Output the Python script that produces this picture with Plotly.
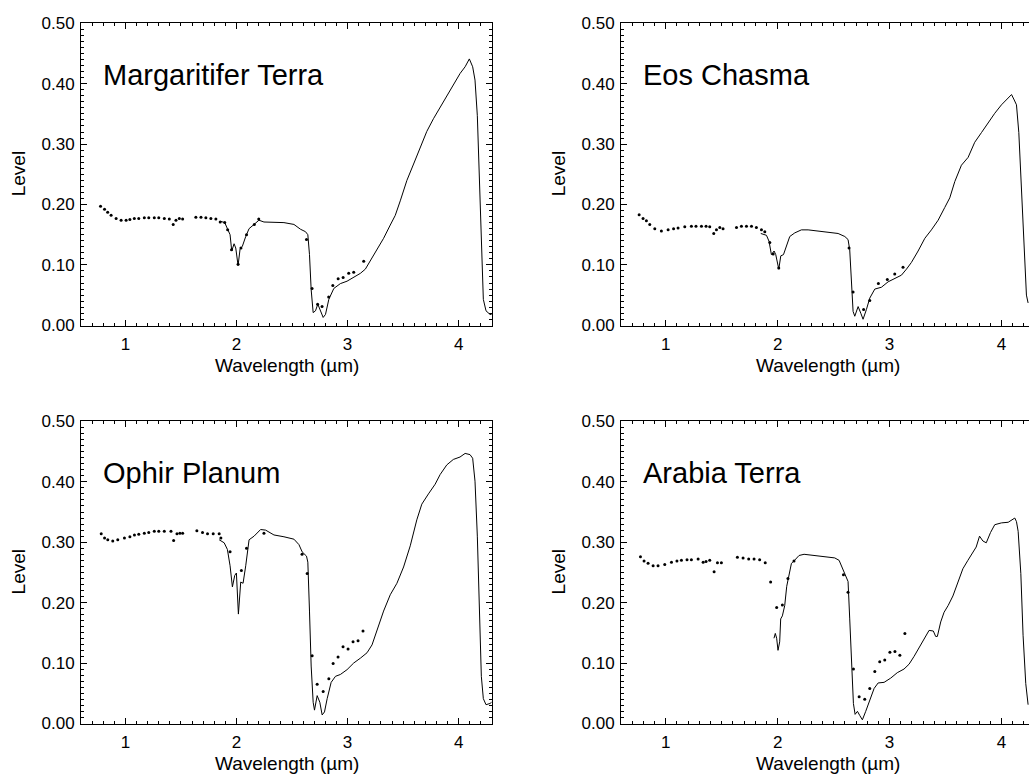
import plotly.graph_objects as go

# ---------------- Data ----------------
# Margaritifer Terra
mt_dot_wl = [0.776, 0.812, 0.84, 0.871, 0.916, 0.961, 1.006, 1.04, 1.08, 1.12, 1.17, 1.21, 1.26, 1.30, 1.35,
             1.395, 1.43, 1.455, 1.485, 1.515, 1.634, 1.68, 1.724, 1.769, 1.814, 1.853, 1.894,
             1.92, 1.955, 2.014, 2.04, 2.09, 2.16, 2.2, 2.63, 2.68, 2.73, 2.77, 2.83, 2.867, 2.915,
             2.96, 3.01, 3.055, 3.145]
mt_dot_lv = [0.197, 0.192, 0.187, 0.182, 0.177, 0.174, 0.174, 0.175, 0.177, 0.177, 0.178, 0.178, 0.178, 0.178, 0.177,
             0.176, 0.167, 0.174, 0.177, 0.176, 0.179, 0.179, 0.178, 0.177, 0.176, 0.171, 0.170,
             0.158, 0.125, 0.101, 0.128, 0.150, 0.167, 0.176, 0.142, 0.061, 0.035, 0.031, 0.047, 0.066, 0.077,
             0.079, 0.086, 0.088, 0.106]
mt_line_wl = [1.859, 1.894, 1.918, 1.942, 1.957, 1.978, 1.993, 2.014, 2.032, 2.053, 2.083, 2.113, 2.158, 2.202,
              2.247, 2.337, 2.427, 2.517, 2.576, 2.621, 2.642, 2.657, 2.672, 2.69, 2.711, 2.732, 2.756, 2.78,
              2.801, 2.831, 2.876, 2.935, 2.995, 3.055, 3.115, 3.16, 3.205, 3.264, 3.324, 3.384, 3.429, 3.474,
              3.534, 3.594, 3.653, 3.713, 3.773, 3.833, 3.893, 3.953, 4.013, 4.058, 4.096, 4.126, 4.147, 4.168,
              4.186, 4.204, 4.222, 4.246, 4.282, 4.296]
mt_line_lv = [0.172, 0.170, 0.160, 0.150, 0.123, 0.135, 0.128, 0.099, 0.126, 0.131, 0.147, 0.160, 0.167, 0.174,
              0.171, 0.171, 0.170, 0.167, 0.159, 0.155, 0.150, 0.117, 0.059, 0.021, 0.024, 0.035, 0.024, 0.013,
              0.018, 0.043, 0.061, 0.069, 0.073, 0.080, 0.086, 0.093, 0.107, 0.125, 0.144, 0.166, 0.182, 0.206,
              0.240, 0.267, 0.294, 0.321, 0.342, 0.361, 0.380, 0.398, 0.417, 0.428, 0.441, 0.428, 0.406, 0.347,
              0.246, 0.117, 0.043, 0.024, 0.018, 0.018]

# Eos Chasma
ec_dot_wl = [0.762, 0.797, 0.827, 0.857, 0.902, 0.961, 1.021, 1.07, 1.11, 1.17, 1.229, 1.27, 1.319, 1.36, 1.393,
             1.429, 1.453, 1.483, 1.512, 1.632, 1.676, 1.721, 1.766, 1.81, 1.855, 1.885,
             1.93, 1.96, 2.01, 2.638, 2.674, 2.768, 2.823, 2.9, 2.98, 3.046, 3.12]
ec_dot_lv = [0.183, 0.177, 0.173, 0.167, 0.160, 0.156, 0.158, 0.160, 0.161, 0.163, 0.164, 0.164, 0.164, 0.164, 0.163,
             0.152, 0.158, 0.162, 0.160, 0.162, 0.164, 0.164, 0.164, 0.162, 0.158, 0.155,
             0.137, 0.118, 0.095, 0.128, 0.055, 0.026, 0.041, 0.069, 0.076, 0.085, 0.096]
ec_line_wl = [1.849, 1.9, 1.923, 1.944, 1.968, 1.983, 2.01, 2.028, 2.052, 2.078, 2.108, 2.153, 2.212, 2.272, 2.361,
              2.451, 2.54, 2.6, 2.629, 2.644, 2.659, 2.674, 2.689, 2.719, 2.743, 2.763, 2.793, 2.823, 2.868, 2.927,
              2.987, 3.046, 3.106, 3.151, 3.195, 3.255, 3.315, 3.374, 3.434, 3.493, 3.538, 3.583, 3.642, 3.702,
              3.761, 3.821, 3.88, 3.94, 4.0, 4.045, 4.09, 4.114, 4.134, 4.155, 4.178, 4.202, 4.223, 4.238]
ec_line_lv = [0.152, 0.149, 0.139, 0.117, 0.123, 0.117, 0.093, 0.115, 0.117, 0.131, 0.147, 0.153, 0.158, 0.158, 0.156,
              0.155, 0.152, 0.147, 0.142, 0.125, 0.066, 0.023, 0.015, 0.031, 0.020, 0.010, 0.026, 0.045, 0.060, 0.063,
              0.072, 0.077, 0.083, 0.093, 0.104, 0.123, 0.144, 0.158, 0.174, 0.195, 0.211, 0.238, 0.265, 0.278,
              0.303, 0.319, 0.335, 0.351, 0.365, 0.373, 0.382, 0.373, 0.365, 0.319, 0.227, 0.120, 0.050, 0.037]

# Ophir Planum
op_dot_wl = [0.782, 0.812, 0.841, 0.886, 0.931, 0.991, 1.04, 1.081, 1.12, 1.17, 1.21, 1.26, 1.30, 1.35, 1.41,
             1.434, 1.464, 1.49, 1.515, 1.643, 1.694, 1.739, 1.79, 1.844, 1.859,
             1.942, 2.044, 2.09, 2.247, 2.59, 2.636, 2.681, 2.726, 2.78, 2.831, 2.87, 2.914, 2.959, 3.004,
             3.049, 3.094, 3.139]
op_dot_lv = [0.314, 0.307, 0.304, 0.302, 0.304, 0.307, 0.309, 0.312, 0.313, 0.315, 0.316, 0.318, 0.318, 0.318, 0.318,
             0.303, 0.314, 0.315, 0.315, 0.319, 0.316, 0.314, 0.314, 0.314, 0.307,
             0.284, 0.253, 0.290, 0.315, 0.280, 0.248, 0.112, 0.065, 0.053, 0.074, 0.099, 0.110, 0.127, 0.123,
             0.135, 0.137, 0.153]
op_line_wl = [1.844, 1.889, 1.918, 1.942, 1.963, 1.984, 1.999, 2.017, 2.038, 2.059, 2.083, 2.113, 2.158, 2.217,
              2.262, 2.337, 2.427, 2.517, 2.562, 2.591, 2.63, 2.642, 2.657, 2.672, 2.69, 2.702, 2.726, 2.75, 2.771,
              2.792, 2.816, 2.852, 2.891, 2.935, 2.995, 3.055, 3.115, 3.175, 3.22, 3.264, 3.324, 3.384, 3.444,
              3.504, 3.564, 3.623, 3.668, 3.728, 3.788, 3.833, 3.893, 3.952, 4.012, 4.058, 4.102, 4.126, 4.147,
              4.168, 4.186, 4.204, 4.222, 4.246, 4.282, 4.296]
op_line_lv = [0.304, 0.299, 0.288, 0.261, 0.226, 0.245, 0.249, 0.181, 0.234, 0.232, 0.261, 0.304, 0.310, 0.321,
              0.320, 0.312, 0.309, 0.305, 0.296, 0.284, 0.277, 0.267, 0.186, 0.095, 0.035, 0.022, 0.046, 0.035, 0.014,
              0.019, 0.041, 0.068, 0.078, 0.081, 0.089, 0.100, 0.108, 0.117, 0.130, 0.154, 0.186, 0.213, 0.232,
              0.259, 0.294, 0.337, 0.363, 0.380, 0.396, 0.412, 0.428, 0.437, 0.441, 0.447, 0.445, 0.439, 0.401,
              0.310, 0.175, 0.078, 0.041, 0.031, 0.033, 0.035]

# Arabia Terra
at_dot_wl = [0.774, 0.806, 0.842, 0.887, 0.931, 0.991, 1.051, 1.10, 1.14, 1.19, 1.229, 1.289, 1.334, 1.36, 1.393,
             1.432, 1.462, 1.497, 1.64, 1.691, 1.741, 1.789, 1.839, 1.889, 1.937, 1.991, 2.042, 2.092, 2.146,
             2.588, 2.629, 2.677, 2.728, 2.778, 2.823, 2.868, 2.912, 2.957, 3.003, 3.048, 3.092, 3.137]
at_dot_lv = [0.276, 0.269, 0.265, 0.261, 0.261, 0.263, 0.267, 0.269, 0.270, 0.271, 0.271, 0.272, 0.267, 0.268, 0.270,
             0.251, 0.266, 0.266, 0.275, 0.274, 0.272, 0.272, 0.271, 0.266, 0.234, 0.192, 0.196, 0.240, 0.269,
             0.246, 0.217, 0.090, 0.044, 0.040, 0.058, 0.086, 0.102, 0.105, 0.118, 0.119, 0.113, 0.149]
at_line_wl = [1.967, 1.979, 1.991, 2.003, 2.018, 2.027, 2.042, 2.063, 2.081, 2.102, 2.123, 2.146, 2.191, 2.236,
              2.325, 2.415, 2.51, 2.549, 2.579, 2.609, 2.629, 2.644, 2.659, 2.677, 2.692, 2.713, 2.734, 2.757,
              2.787, 2.826, 2.862, 2.898, 2.951, 3.01, 3.069, 3.129, 3.174, 3.219, 3.263, 3.308, 3.353, 3.391,
              3.412, 3.427, 3.457, 3.487, 3.523, 3.566, 3.61, 3.655, 3.7, 3.745, 3.774, 3.804, 3.834, 3.864,
              3.902, 3.94, 4.0, 4.06, 4.09, 4.119, 4.134, 4.149, 4.173, 4.193, 4.217, 4.238]
at_line_lv = [0.141, 0.149, 0.141, 0.121, 0.135, 0.173, 0.178, 0.195, 0.227, 0.248, 0.265, 0.269, 0.278, 0.280,
              0.278, 0.275, 0.274, 0.270, 0.256, 0.243, 0.235, 0.173, 0.103, 0.033, 0.015, 0.020, 0.013, 0.006,
              0.020, 0.041, 0.058, 0.067, 0.068, 0.075, 0.084, 0.090, 0.098, 0.111, 0.125, 0.141, 0.154, 0.153,
              0.144, 0.144, 0.168, 0.184, 0.195, 0.211, 0.235, 0.256, 0.270, 0.283, 0.292, 0.310, 0.302, 0.299,
              0.316, 0.329, 0.332, 0.333, 0.337, 0.340, 0.334, 0.318, 0.248, 0.146, 0.066, 0.031]

panel_names = ["Margaritifer Terra", "Eos Chasma", "Ophir Planum", "Arabia Terra"]
x_ticks = [1, 2, 3, 4]
y_ticks = [0.0, 0.1, 0.2, 0.3, 0.4, 0.5]
y_ticktext = ["0.00", "0.10", "0.20", "0.30", "0.40", "0.50"]
x_title = "Wavelength (µm)"
y_title = "Level"

# ---------------- Layout geometry (window pixels) ----------------
W, H = 1029, 779
FONT = "Liberation Sans, Arial, Helvetica, sans-serif"


def px_x(p):
    return p / W


def px_y(p):
    return 1 - p / H


panels = [
    # name, dots, line, x-domain px, y-domain px (top, bottom), x-range, mirror y
    (panel_names[0], mt_dot_wl, mt_dot_lv, mt_line_wl, mt_line_lv, (81, 492), (15, 325), [0.6, 4.3], True),
    (panel_names[1], ec_dot_wl, ec_dot_lv, ec_line_wl, ec_line_lv, (621, 1029), (15, 325), [0.6, 4.246], False),
    (panel_names[2], op_dot_wl, op_dot_lv, op_line_wl, op_line_lv, (81, 492), (422, 732), [0.6, 4.3], True),
    (panel_names[3], at_dot_wl, at_dot_lv, at_line_wl, at_line_lv, (621, 1029), (422, 732), [0.6, 4.246], False),
]

fig = go.Figure()
annotations = []

for i, (name, dwl, dlv, lwl, llv, xd, yd, xr, ymirror) in enumerate(panels):
    n = "" if i == 0 else str(i + 1)
    xa, ya = "x" + n, "y" + n
    fig.add_trace(go.Scatter(x=lwl, y=llv, mode="lines", xaxis=xa, yaxis=ya,
                             line=dict(color="black", width=1), showlegend=False, hoverinfo="skip"))
    fig.add_trace(go.Scatter(x=dwl, y=dlv, mode="markers", xaxis=xa, yaxis=ya,
                             marker=dict(color="black", size=3), showlegend=False))

    tickfont = dict(family=FONT, size=17, color="black")
    fig.layout["xaxis" + n] = dict(
        domain=[px_x(xd[0]), px_x(xd[1])], range=xr, anchor=ya,
        tickvals=x_ticks, ticks="inside", ticklen=6, tickwidth=1, tickcolor="black",
        showline=True, linecolor="black", linewidth=1, mirror="ticks",
        showgrid=False, zeroline=False, tickfont=tickfont, ticklabelstandoff=3,
        minor=dict(ticks="inside", dtick=0.1, tick0=0, ticklen=3, tickwidth=1,
                   tickcolor="black", showgrid=False),
    )
    fig.layout["yaxis" + n] = dict(
        domain=[px_y(yd[1]), px_y(yd[0])], range=[-0.001, 0.501], anchor=xa,
        tickvals=y_ticks, ticktext=y_ticktext, ticks="inside", ticklen=6, tickwidth=1, tickcolor="black",
        showline=True, linecolor="black", linewidth=1, mirror="ticks" if ymirror else False,
        showgrid=False, zeroline=False, tickfont=tickfont, ticklabelstandoff=2,
        minor=dict(ticks="inside", dtick=0.01, tick0=0, ticklen=3, tickwidth=1,
                   tickcolor="black", showgrid=False),
    )

    # panel label
    annotations.append(dict(text=name, xref="paper", yref="paper",
                            x=px_x(xd[0] + 20), y=px_y(yd[0] + 53), xanchor="left", yanchor="middle",
                            showarrow=False, font=dict(family=FONT, size=29, color="black")))
    # x-axis title
    annotations.append(dict(text=x_title, xref="paper", yref="paper",
                            x=px_x(xd[0] + (2.45 - xr[0]) * (xd[1] - xd[0]) / (xr[1] - xr[0])),
                            y=px_y(yd[1] + 40), xanchor="center", yanchor="middle",
                            showarrow=False, font=dict(family=FONT, size=19, color="black")))
    # y-axis title
    annotations.append(dict(text=y_title, xref="paper", yref="paper", textangle=-90,
                            x=px_x(xd[0] - 63), y=px_y((yd[0] + yd[1]) / 2),
                            xanchor="center", yanchor="middle",
                            showarrow=False, font=dict(family=FONT, size=19, color="black")))

fig.update_layout(
    width=W, height=H, margin=dict(l=0, r=0, t=0, b=0),
    paper_bgcolor="white", plot_bgcolor="white",
    annotations=annotations, showlegend=False,
    font=dict(family=FONT, color="black"),
)

# remove the browser's default 8 px page margin so the figure sits at the window origin
fig.write_html("out.html",
               config={"displayModeBar": False, "staticPlot": True},
               post_script="document.body.style.margin='0px';document.body.style.overflow='hidden';")
